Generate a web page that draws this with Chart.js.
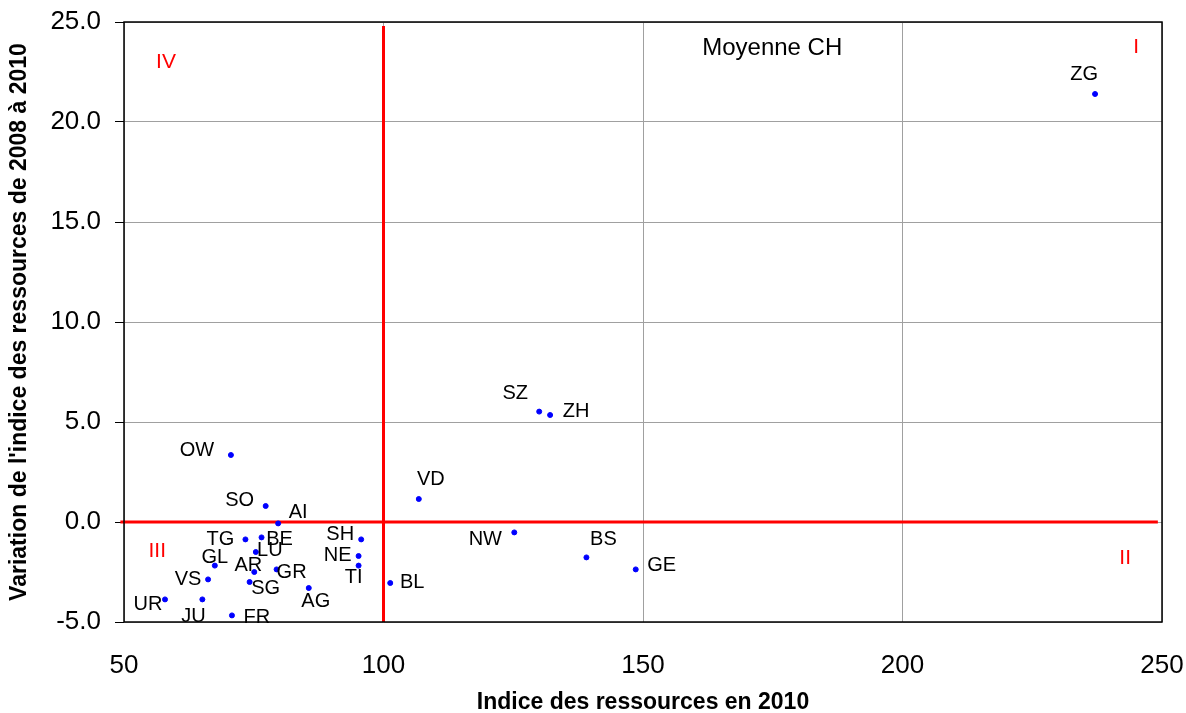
<!DOCTYPE html>
<html>
<head>
<meta charset="utf-8">
<script src="https://cdn.jsdelivr.net/npm/chart.js@4.4.1/dist/chart.umd.min.js"></script>
<style>
  html, body { margin: 0; padding: 0; background: #fff; }
  #wrap { width: 1186px; height: 713px; }
</style>
</head>
<body>
<div id="wrap"><canvas id="chart" width="1186" height="713"></canvas></div>
<script>
// cantons, resource index 2010 and change 2008-2010
const cantons = ["OW", "SO", "AI", "TG", "BE", "LU", "GL", "AR", "GR", "SG", "VS", "UR", "JU", "FR", "AG",
                 "SH", "NE", "TI", "BL", "VD", "SZ", "ZH", "NW", "BS", "GE", "ZG"];
const indice2010 = [70.6, 77.3, 79.7, 73.4, 76.5, 75.4, 67.5, 75.1, 79.4, 74.2, 66.2, 57.9, 65.1, 70.8, 85.6,
                    95.7, 95.2, 95.2, 101.3, 106.8, 130.0, 132.1, 125.2, 139.1, 148.6, 237.1];
const variation = [3.35, 0.8, -0.07, -0.87, -0.77, -1.5, -2.18, -2.5, -2.37, -3.0, -2.87, -3.87, -3.87, -4.67, -3.3,
                   -0.87, -1.7, -2.18, -3.05, 1.15, 5.52, 5.35, -0.52, -1.77, -2.37, 21.4];

// quadrant and mean labels
const notes = ["Moyenne CH", "I", "II", "III", "IV"];
const noteX = [174.9, 245.0, 242.9, 56.4, 58.1];
const noteY = [23.7, 23.75, -1.8, -1.45, 23.0];

const xTicks = [50, 100, 150, 200, 250];
const yTicks = [-5, 0, 5, 10, 15, 20, 25];

const FONT = "'Liberation Sans', Arial, sans-serif";

// label offsets in px from each point (style only)
const labelOffsets = [
  [-34, -5], [-26, -6], [20, -11], [-25, 0], [18, 2], [14, -2], [0, -8], [-6, -7], [15, 3], [16, 6],
  [-20, 0], [-17, 5], [-9, 17], [25, 2], [7, 13],
  [-21, -5], [-21, -1], [-5, 12], [22, -1], [12, -20], [-24, -18], [26, -4], [-29, 7], [17, -18], [26, -4], [-11, -20]
];

const labelPlugin = {
  id: "labels",
  afterDatasetsDraw(chart) {
    const ctx = chart.ctx;
    const meta = chart.getDatasetMeta(0);
    ctx.save();
    ctx.font = "20px " + FONT;
    ctx.fillStyle = "#000";
    ctx.textAlign = "center";
    ctx.textBaseline = "middle";
    meta.data.forEach((pt, i) => {
      ctx.fillText(cantons[i], pt.x + labelOffsets[i][0], pt.y + labelOffsets[i][1]);
    });
    const xs = chart.scales.x, ys = chart.scales.y;
    notes.forEach((t, i) => {
      ctx.fillStyle = i === 0 ? "#000" : "#ff0000";
      ctx.font = (i === 0 ? "24px " : "21px ") + FONT;
      ctx.fillText(t, xs.getPixelForValue(noteX[i]), ys.getPixelForValue(noteY[i]));
    });
    // frame
    const a = chart.chartArea;
    ctx.strokeStyle = "#000";
    ctx.lineWidth = 1.5;
    ctx.strokeRect(a.left, a.top, a.right - a.left, a.bottom - a.top);
    ctx.restore();
  }
};

const ctx = document.getElementById("chart").getContext("2d");
new Chart(ctx, {
  type: "scatter",
  data: {
    datasets: [
      {
        label: "Cantons",
        data: indice2010.map((v, i) => ({ x: v, y: variation[i] })),
        backgroundColor: "#0000ff",
        borderColor: "#0000ff",
        pointRadius: 2.5,
        order: 0
      },
      {
        label: "moyenne x",
        data: [{ x: 100, y: 24.8 }, { x: 100, y: -5 }],
        showLine: true,
        borderColor: "#ff0000",
        borderWidth: 3,
        pointRadius: 0,
        order: 1
      },
      {
        label: "moyenne y",
        data: [{ x: 49.3, y: 0 }, { x: 249.2, y: 0 }],
        showLine: true,
        borderColor: "#ff0000",
        borderWidth: 3,
        pointRadius: 0,
        clip: false,
        order: 1
      }
    ]
  },
  options: {
    responsive: false,
    animation: false,
    layout: { padding: { top: 22, right: 24, left: 0, bottom: 0 } },
    plugins: { legend: { display: false }, tooltip: { enabled: false } },
    scales: {
      x: {
        type: "linear",
        min: 50, max: 250,
        afterBuildTicks: s => { s.ticks = xTicks.map(v => ({ value: v })); },
        afterFit: s => { s.height = 91; s.paddingLeft = 0; s.paddingRight = 0; },
        grid: { color: "#a0a0a0", lineWidth: 1, drawTicks: false },
        border: { display: false },
        ticks: { color: "#000", padding: 28, font: { family: FONT, size: 26 } },
        title: {
          display: true, text: "Indice des ressources en 2010", color: "#000",
          font: { family: FONT, size: 23, weight: "bold", lineHeight: 0.9 },
          padding: { top: 8, bottom: 0 }
        }
      },
      y: {
        type: "linear",
        min: -5, max: 25,
        afterBuildTicks: s => { s.ticks = yTicks.map(v => ({ value: v })); },
        afterFit: s => { s.width = 124; s.paddingTop = 0; s.paddingBottom = 0; },
        grid: { color: "#a0a0a0", lineWidth: 1, tickLength: 9, tickColor: "#000", tickWidth: 1 },
        border: { display: false },
        ticks: {
          color: "#000", padding: 14,
          font: { family: FONT, size: 26 },
          callback: v => v.toFixed(1)
        },
        title: {
          display: true, text: "Variation de l'indice des ressources de 2008 à 2010", color: "#000",
          font: { family: FONT, size: 23, weight: "bold" },
          padding: { top: 6, bottom: 0 }
        }
      }
    }
  },
  plugins: [labelPlugin]
});
</script>
</body>
</html>
